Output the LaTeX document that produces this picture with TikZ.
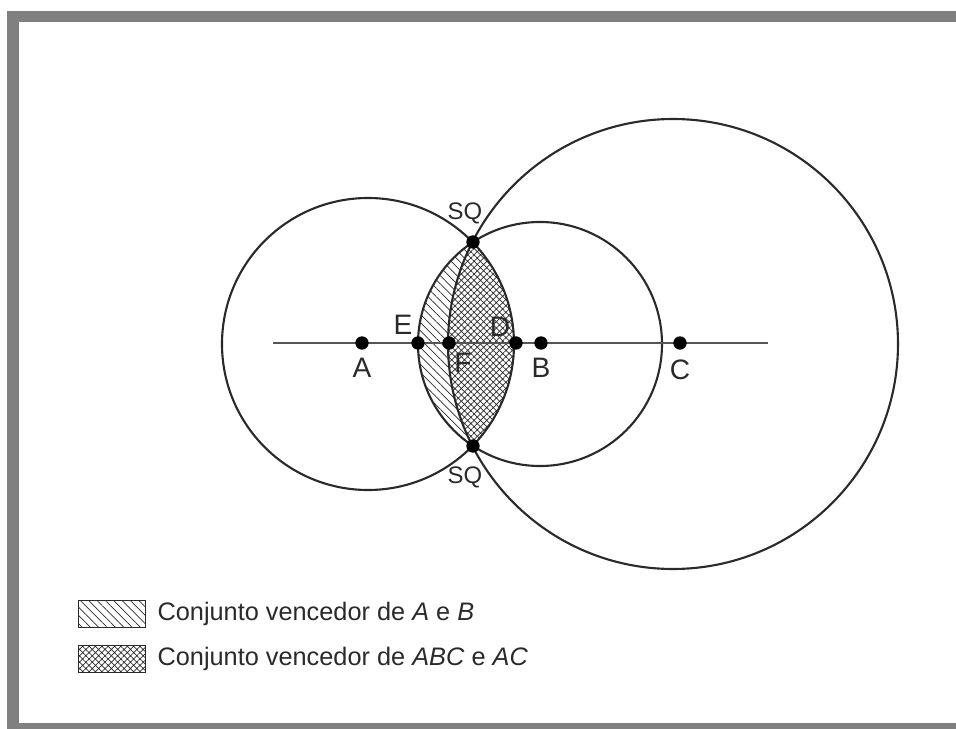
\documentclass[tikz,border=0pt]{standalone}
\usepackage{fontspec}
\setmainfont{Liberation Sans}
\usepackage{tikz}
\usetikzlibrary{patterns.meta, positioning}
\definecolor{moldura}{HTML}{808080}
\definecolor{traco}{HTML}{2A2A2A}
\definecolor{eixocor}{HTML}{555555}
\tikzset{
  circulo/.style={draw=traco, line width=1.5pt},
  eixo/.style={draw=eixocor, line width=0.75pt},
  ponto/.style={circle, fill=black, inner sep=0pt, minimum size=9.5pt},
  rotulo/.style={font=\fontsize{20}{23}\selectfont, text=traco, inner sep=0pt},
  rotulosq/.style={font=\fontsize{17}{20}\selectfont, text=traco, inner sep=0pt},
  listras/.style={pattern={Lines[angle=-45, distance=4.2pt, line width=0.5pt]},
    pattern color=traco},
  grade/.style={pattern={Hatch[angle=45, distance=3.2pt, line width=0.5pt]},
    pattern color=traco},
  caixa/.style={rectangle, draw=traco, line width=0.6pt, inner sep=0pt,
    minimum width=47.6pt, minimum height=19.2pt},
  legenda/.style={font=\fontsize{18}{21}\selectfont, text=traco, inner sep=0pt}
}

\begin{document}
\begin{tikzpicture}[x=0.025cm, y=-0.025cm]
  \useasboundingbox (0,0) rectangle (956,729);

  % Moldura
  \fill[moldura] (7,11) rectangle (956,22);
  \fill[moldura] (7,11) rectangle (19,729);
  \fill[moldura] (7,723) rectangle (956,729);

  % Centros dos circulos
  \coordinate (cA) at (368,344);
  \coordinate (cB) at (540,344);
  \coordinate (cC) at (673,344);

  % Regioes vencedoras
  \begin{scope}
    \clip (cA) circle (146);
    \path[listras] (cB) circle (122);
  \end{scope}
  \begin{scope}
    \clip (cA) circle (146);
    \clip (cB) circle (122);
    \fill[white] (cC) circle (225);
    \path[grade] (cC) circle (225);
  \end{scope}

  % Circulos
  \draw[circulo] (cA) circle (146);
  \draw[circulo] (cB) circle (122);
  \draw[circulo] (cC) circle (225);

  % Eixo
  \coordinate (esq) at (273,343);
  \coordinate (dir) at (768,343);
  \draw[eixo] (esq) -- (dir);

  % Pontos
  \node[ponto] (A) at (362,343) {};
  \node[ponto] (E) at (418,343) {};
  \node[ponto] (F) at (449,343) {};
  \node[ponto] (D) at (516,343) {};
  \node[ponto] (B) at (541,343) {};
  \node[ponto] (C) at (680,343) {};
  \node[ponto] (sq1) at (473,242) {};
  \node[ponto] (sq2) at (473,446) {};

  % Rotulos
  \node[rotulo] (rA) at (362,368) {A};
  \node[rotulo] (rE) at (403,325) {E};
  \node[rotulo] (rF) at (463,363) {F};
  \node[rotulo] (rD) at (500,327) {D};
  \node[rotulo] (rB) at (541,368) {B};
  \node[rotulo] (rC) at (680,370) {C};
  \node[rotulosq] (rsq1) at (465,213) {SQ};
  \node[rotulosq] (rsq2) at (465,477) {SQ};

  % Legenda
  \node[caixa, listras] (leg1) at (111.5,613.5) {};
  \node[caixa, grade] (leg2) at (111.5,658.5) {};
  \node[legenda, right=8.5pt of leg1] (txt1) {Conjunto vencedor de \textit{A} e \textit{B}};
  \node[legenda, right=8.5pt of leg2] (txt2) {Conjunto vencedor de \textit{ABC} e \textit{AC}};
\end{tikzpicture}
\end{document}
